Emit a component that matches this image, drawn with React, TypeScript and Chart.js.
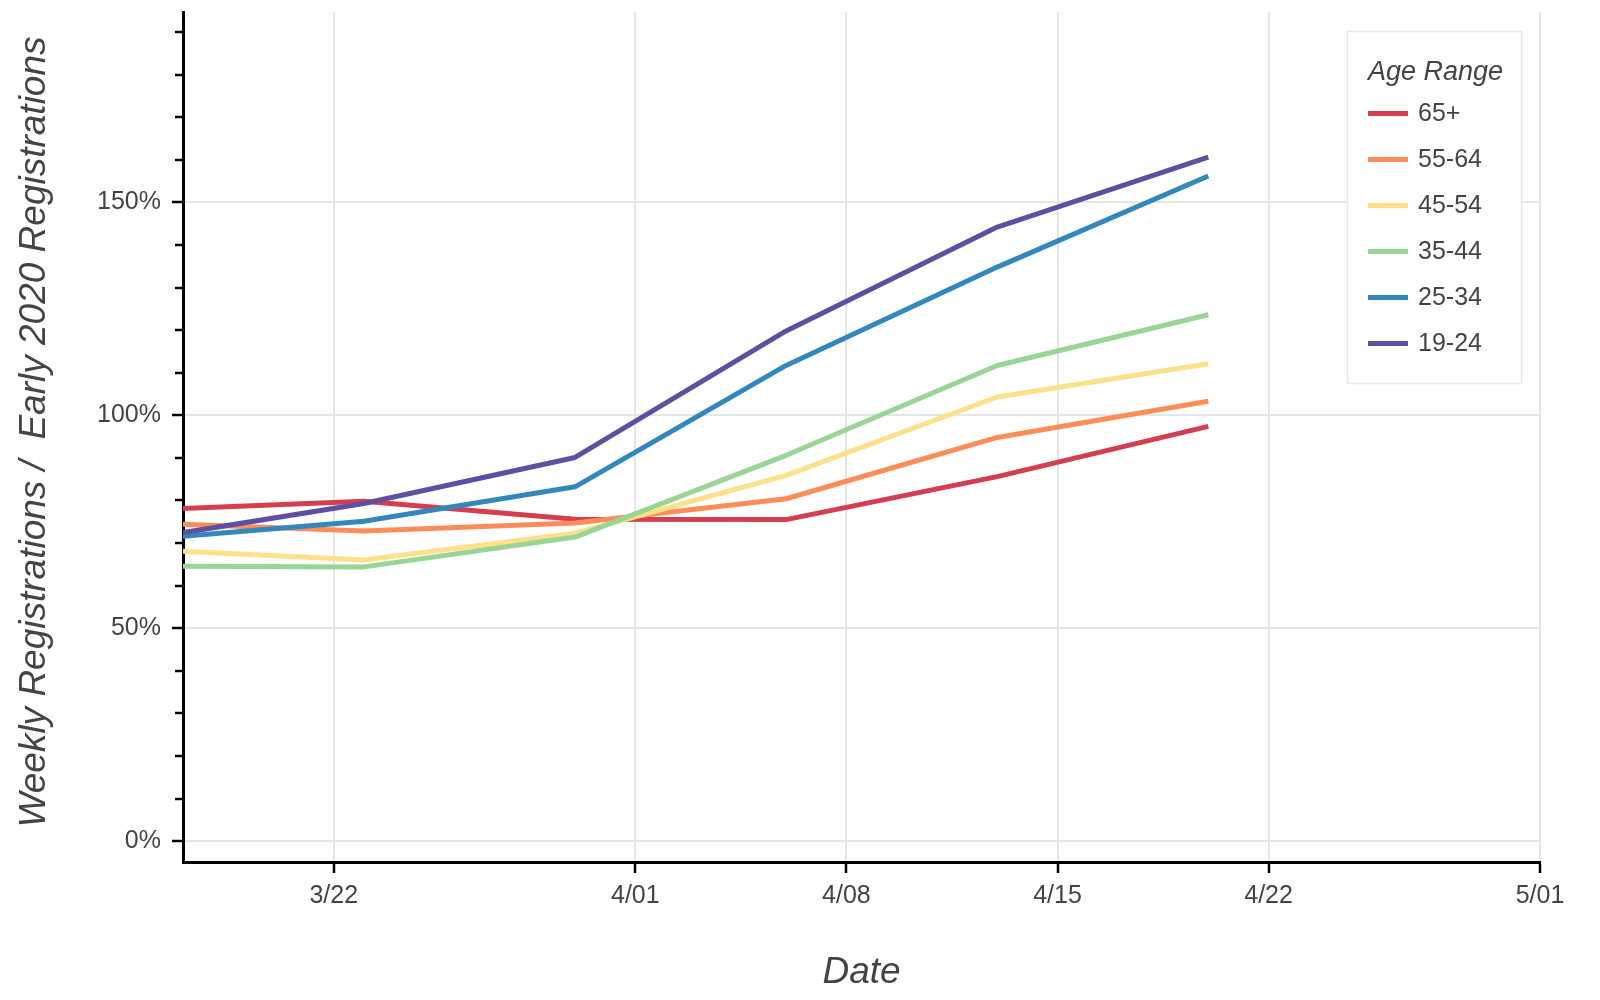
import React, { useEffect, useRef } from "react";
import { Chart, registerables } from "chart.js";

Chart.register(...registerables);

// Days counted from March 1 (day 0)
const weekDays = [15, 22, 29, 36, 43, 50]; // 3/16 .. 4/20
const xTickDays = [21, 31, 38, 45, 52, 61];
const xTickLabels = ["3/22", "4/01", "4/08", "4/15", "4/22", "5/01"];
const yMajorTicks = [0, 50, 100, 150];
const yMinorTicks = [10, 20, 30, 40, 60, 70, 80, 90, 110, 120, 130, 140, 160, 170, 180, 190];

const seriesNames = ["65+", "55-64", "45-54", "35-44", "25-34", "19-24"];
const seriesColors = ["#d53e4f", "#fc8d59", "#fee08b", "#99d594", "#3288bd", "#5e4fa2"];

const age65plus = [77.8, 79.8, 75.6, 75.5, 85.6, 97.4];
const age55to64 = [74.7, 72.8, 74.7, 80.4, 94.8, 103.3];
const age45to54 = [68.4, 66.0, 72.3, 85.9, 104.3, 112.1];
const age35to44 = [64.6, 64.4, 71.4, 90.6, 111.7, 123.6];
const age25to34 = [71.0, 75.1, 83.2, 111.7, 134.8, 156.2];
const age19to24 = [71.3, 79.3, 90.1, 119.8, 144.2, 160.6];

const seriesValues = [age65plus, age55to64, age45to54, age35to44, age25to34, age19to24];

const legendTitle = "Age Range";
const xTitle = "Date";
const yTitle = "Weekly Registrations /  Early 2020 Registrations";

const FONT = "'Liberation Sans', Arial, Helvetica, sans-serif";

const minorTicksPlugin = {
  id: "minorTicks",
  afterDraw(chart: any) {
    const y = chart.scales.y;
    const ctx = chart.ctx;
    const left = chart.chartArea.left;
    ctx.save();
    ctx.strokeStyle = "#000";
    ctx.lineWidth = 2.5;
    for (const v of yMinorTicks) {
      const py = Math.round(y.getPixelForValue(v));
      ctx.beginPath();
      ctx.moveTo(left - 8, py);
      ctx.lineTo(left, py);
      ctx.stroke();
    }
    ctx.restore();
  },
};

const titlesPlugin = {
  id: "axisTitles",
  afterDraw(chart: any) {
    const ctx = chart.ctx;
    const ca = chart.chartArea;
    ctx.save();
    ctx.fillStyle = "#444";
    ctx.font = `italic 37px ${FONT}`;
    ctx.textAlign = "center";
    ctx.textBaseline = "alphabetic";
    ctx.fillText(xTitle, (ca.left + ca.right) / 2, 983);
    ctx.translate(45, 432);
    ctx.rotate(-Math.PI / 2);
    ctx.fillText(yTitle, 0, 0);
    ctx.restore();
  },
};

const legendPlugin = {
  id: "boxLegend",
  afterDraw(chart: any) {
    const ctx = chart.ctx;
    const bx = 1347, by = 31, bw = 174, bh = 352;
    ctx.save();
    ctx.fillStyle = "rgba(255,255,255,0.95)";
    ctx.fillRect(bx, by, bw, bh);
    ctx.strokeStyle = "#e8e8e8";
    ctx.lineWidth = 1.5;
    ctx.strokeRect(bx + 0.5, by + 0.5, bw, bh);
    ctx.fillStyle = "#444";
    ctx.font = `italic 27px ${FONT}`;
    ctx.textAlign = "left";
    ctx.textBaseline = "alphabetic";
    ctx.fillText(legendTitle, 1368, 80);
    ctx.font = `25px ${FONT}`;
    ctx.textBaseline = "middle";
    chart.data.datasets.forEach((ds: any, i: number) => {
      const cy = 113.5 + i * 46;
      ctx.strokeStyle = ds.borderColor;
      ctx.lineWidth = 5;
      ctx.beginPath();
      ctx.moveTo(1368, cy);
      ctx.lineTo(1408, cy);
      ctx.stroke();
      ctx.fillStyle = "#444";
      ctx.fillText(ds.label, 1418, cy + 1);
    });
    ctx.restore();
  },
};

export default function App() {
  const ref = useRef<HTMLCanvasElement | null>(null);

  useEffect(() => {
    if (!ref.current) return;
    const n = seriesNames.length;
    const chart = new Chart(ref.current, {
      type: "line",
      data: {
        datasets: seriesNames.map((name, i) => ({
          label: name,
          data: weekDays.map((d, j) => ({ x: d, y: seriesValues[i][j] })),
          borderColor: seriesColors[i],
          backgroundColor: seriesColors[i],
          borderWidth: 5,
          pointRadius: 0,
          tension: 0,
          borderJoinStyle: "bevel" as const,
          borderCapStyle: "butt" as const,
          order: n - i,
          clip: 0,
        })),
      },
      options: {
        responsive: false,
        animation: false,
        events: [],
        layout: { padding: { left: 0, top: 12, right: 60, bottom: 0 } },
        plugins: {
          legend: { display: false },
          tooltip: { enabled: false },
          title: { display: false },
        },
        scales: {
          x: {
            type: "linear",
            min: 16,
            max: 61,
            afterFit: (s: any) => {
              s.height = 138;
            },
            afterBuildTicks: (s: any) => {
              s.ticks = xTickDays.map((v) => ({ value: v }));
            },
            grid: {
              color: "#e6e6e6",
              lineWidth: 2,
              drawTicks: true,
              tickLength: 11,
              tickColor: "#000",
              tickWidth: 2.5,
            },
            border: { display: true, color: "#000", width: 3 },
            ticks: {
              autoSkip: false,
              maxRotation: 0,
              padding: 8,
              color: "#444",
              font: { family: FONT, size: 25 },
              callback: (v: any) => {
                const k = xTickDays.indexOf(Number(v));
                return k >= 0 ? xTickLabels[k] : "";
              },
            },
          },
          y: {
            type: "linear",
            min: -4.9,
            max: 194.7,
            afterFit: (s: any) => {
              s.width = 183;
              s.paddingTop = 0;
              s.paddingBottom = 0;
            },
            afterBuildTicks: (s: any) => {
              s.ticks = yMajorTicks.map((v) => ({ value: v }));
            },
            grid: {
              color: "#e6e6e6",
              lineWidth: 2,
              drawTicks: true,
              tickLength: 11,
              tickColor: "#000",
              tickWidth: 2.5,
            },
            border: { display: true, color: "#000", width: 3 },
            ticks: {
              padding: 11,
              color: "#444",
              font: { family: FONT, size: 25 },
              callback: (v: any) => `${v}%`,
            },
          },
        },
      },
      plugins: [minorTicksPlugin, titlesPlugin, legendPlugin],
    });
    return () => chart.destroy();
  }, []);

  return (
    <div style={{ position: "absolute", left: 0, top: 0, width: 1600, height: 1000, background: "#fff" }}>
      <canvas ref={ref} width={1600} height={1000} style={{ width: 1600, height: 1000, display: "block" }} />
    </div>
  );
}
